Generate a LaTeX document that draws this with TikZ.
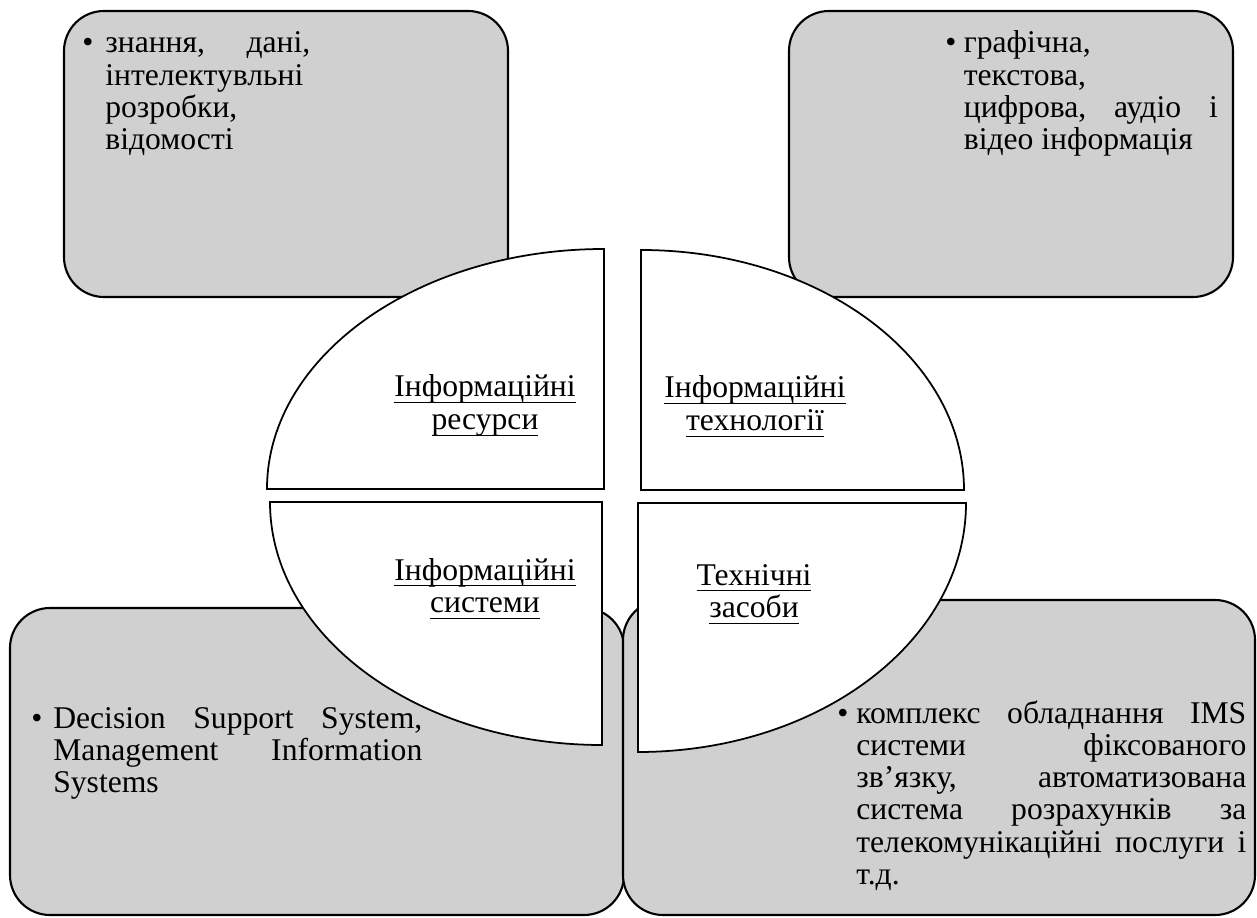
\documentclass[tikz,border=0pt]{standalone}
\usepackage{fontspec}
\setmainfont{Liberation Serif}
\usetikzlibrary{calc}
\definecolor{panelgray}{RGB}{208,208,208}
\newcommand\ulin[1]{\leavevmode\setbox0\hbox{#1}\rlap{\rule[-3.6pt]{\wd0}{0.7pt}}\box0}

\begin{document}
\begin{tikzpicture}[x=0.02cm,y=0.02cm,
  panel/.style={draw=black,line width=1.2pt,fill=panelgray,rounded corners=0.8cm},
  quarter/.style={draw=black,line width=1pt,fill=white},
  head/.style={anchor=base,inner sep=0pt,text width=4cm,align=center,
    font=\fontsize{18pt}{18.7pt}\selectfont},
  body/.style={anchor=base west,inner sep=0pt,
    font=\fontsize{18pt}{18.4pt}\selectfont}]
\useasboundingbox (0,0) rectangle (1257,917);
% corner panels
\draw[panel] (64,620) rectangle (508,906);
\draw[panel] (789,620) rectangle (1233,906);
\draw[panel] (10,2) rectangle (624,309);
\draw[panel] (623,2) rectangle (1255,317);
% the four quarters of the ellipse
\coordinate (TL) at (604,428);
\coordinate (TR) at (641,427);
\coordinate (BL) at (602,415);
\coordinate (BR) at (638,414);
\draw[quarter] (TL) -- ++(-337,0) arc[start angle=180,end angle=90,x radius=337,y radius=240] -- cycle;
\draw[quarter] (TR) -- ++(0,240) arc[start angle=90,end angle=0,x radius=323,y radius=240] -- cycle;
\draw[quarter] (BL) -- ++(0,-243) arc[start angle=270,end angle=180,x radius=332,y radius=243] -- cycle;
\draw[quarter] (BR) -- ++(328,0) arc[start angle=0,end angle=-90,x radius=328,y radius=249] -- cycle;
% quarter titles
\node[head] (res) at (485,520) {\ulin{Інформаційні}\\\ulin{ресурси}};
\node[head] (tech) at (755,519) {\ulin{Інформаційні}\\\ulin{технології}};
\node[head] (sys) at (485,337) {\ulin{Інформаційні}\\\ulin{системи}};
\node[head] (hw) at (754,332) {\ulin{Технічні}\\\ulin{засоби}};
% panel texts
\node[body] (resTxt) at (82,864)
  {\makebox[0.46cm][l]{\textbullet}\parbox[t]{4.1cm}{знання,\hfill дані,\\
   інтелектувльні\\ розробки,\\ відомості}};
\node[body] (techTxt) at (945,864)
  {\makebox[0.37cm][l]{\textbullet}\parbox[t]{5.08cm}{графічна,\\
   текстова,\\ цифрова,\hfill аудіо\hfill і\\ відео інформація}};
\node[body] (sysTxt) at (31,189)
  {\makebox[0.44cm][l]{\textbullet}\parbox[t]{7.38cm}{Decision\hfill Support\hfill System,\\
   Management\hfill Information\\ Systems}};
\node[body] (hwTxt) at (837,194)
  {\makebox[0.38cm][l]{\textbullet}\parbox[t]{7.8cm}{комплекс\hfill обладнання\hfill IMS\\
   системи\hfill фіксованого\\ зв’язку,\hfill автоматизована\\ система\hfill розрахунків\hfill за\\
   телекомунікаційні\hfill послуги\hfill і\\ т.д.}};
\end{tikzpicture}
\end{document}
